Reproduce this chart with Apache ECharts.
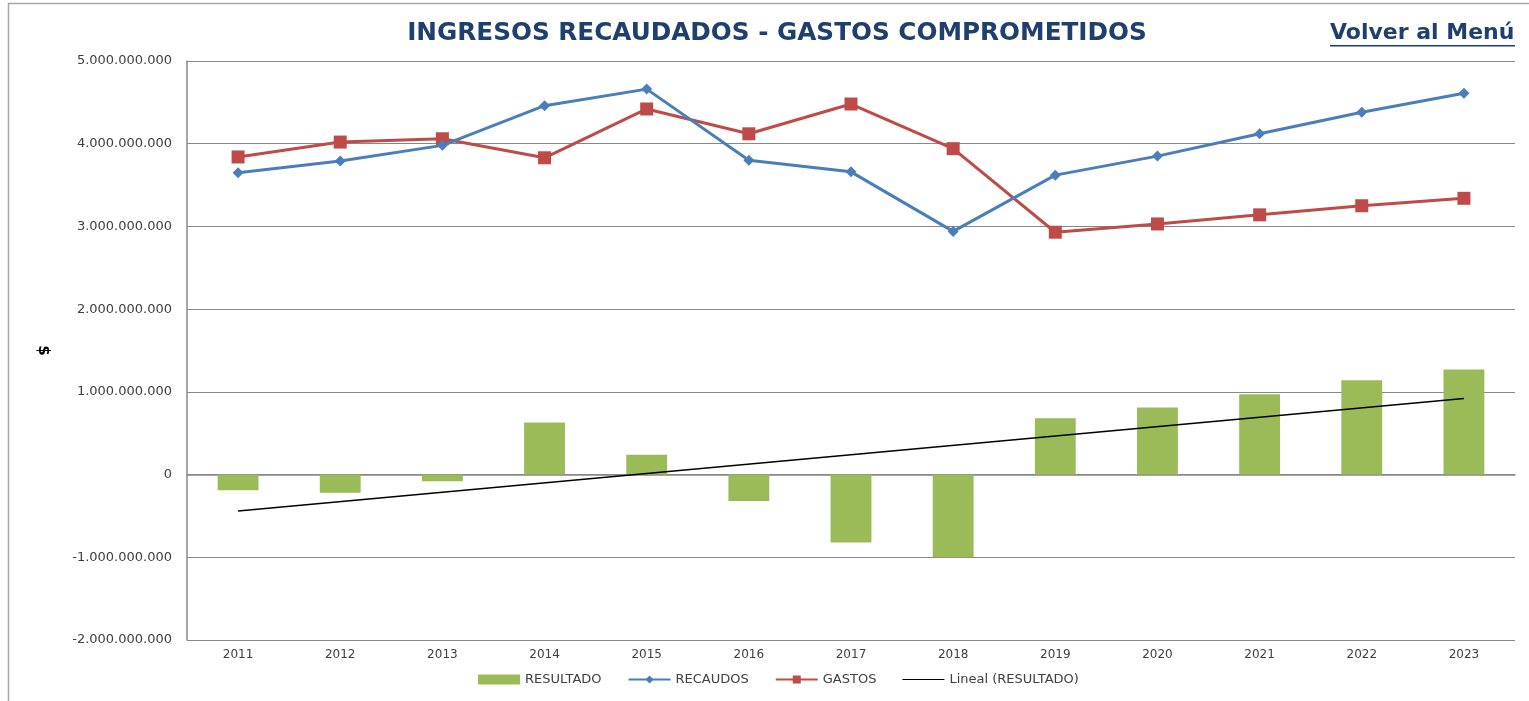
<!DOCTYPE html>
<html><head><meta charset="utf-8">
<script src="https://cdn.jsdelivr.net/npm/echarts@6/dist/echarts.min.js"></script>
<style>html,body{margin:0;padding:0;background:#fff}#c{width:1529px;height:701px}</style>
</head><body><div id="c"></div>
<script>
const years = ['2011','2012','2013','2014','2015','2016','2017','2018','2019','2020','2021','2022','2023'];
const recaudos = [3650000000,3790000000,3980000000,4460000000,4660000000,3800000000,3660000000,2940000000,3620000000,3850000000,4120000000,4380000000,4610000000];
const gastos = [3840000000,4020000000,4060000000,3830000000,4420000000,4120000000,4480000000,3940000000,2930000000,3030000000,3140000000,3250000000,3340000000];
const resultado = [-190000000,-220000000,-80000000,630000000,240000000,-320000000,-820000000,-1000000000,680000000,810000000,970000000,1140000000,1270000000];
// trend line: value at first and last year
const trendFirst = -440000000;
const trendLast = 920000000;
const trend = years.map((y,i)=> i===0 ? trendFirst : (i===years.length-1 ? trendLast : null));

const FONT = 'DejaVu Sans';
function fmt(v){
  const neg = v < 0; let s = String(Math.abs(Math.round(v)));
  s = s.replace(/\B(?=(\d{3})+(?!\d))/g, '.');
  return (neg?'-':'') + s;
}
const chart = echarts.init(document.getElementById('c'), null, {renderer:'canvas'});
chart.setOption({
  backgroundColor:'#fff',
  animation:false,
  textStyle:{fontFamily:FONT},
  title:{text:'INGRESOS RECAUDADOS - GASTOS COMPROMETIDOS', left:772, top:16, textAlign:'center',
    textStyle:{fontFamily:FONT, fontWeight:'bold', fontSize:24.7, color:'#1F3F6E'}},
  graphic:[
    {type:'rect', shape:{x:8.5,y:3.5,width:1600,height:720}, style:{fill:'none', stroke:'#a6a6a6', lineWidth:1.5}},
    {type:'text', left:1330, top:22, style:{text:'Volver al Menú', font:'bold 22px '+FONT, fill:'#1F3F6E'}},
    {type:'rect', shape:{x:1330,y:45,width:185,height:1.5}, style:{fill:'#1F3F6E'}}
  ],
  legend:{bottom:10, left:473, itemGap:26, itemWidth:42, itemHeight:10,
    textStyle:{fontFamily:FONT, fontSize:13, color:'#404040'},
    data:[
      {name:'RESULTADO', icon:'rect'},
      {name:'RECAUDOS'},
      {name:'GASTOS'},
      {name:'Lineal (RESULTADO)', icon:'path://M0,0 L40,0 L40,1 L0,1 Z'}
    ]},
  grid:{left:187, right:14, top:61, bottom:61},
  xAxis:{type:'category', data:years, boundaryGap:true,
    axisLine:{show:true, lineStyle:{color:'#888', width:1.5}},
    axisTick:{show:false},
    axisLabel:{fontFamily:FONT, fontSize:12, color:'#404040', margin:9}},
  yAxis:{type:'value', min:-2000000000, max:5000000000, interval:1000000000,
    name:'$', nameLocation:'middle', nameGap:137, nameRotate:-90,
    nameTextStyle:{fontFamily:FONT, fontSize:15, fontWeight:'bold', color:'#000'},
    axisLine:{show:true, lineStyle:{color:'#888', width:1.5}},
    axisTick:{show:false},
    splitLine:{lineStyle:{color:'#888', width:1.2}},
    axisLabel:{fontFamily:FONT, fontSize:13, color:'#404040', margin:15, formatter:fmt}},
  series:[
    {name:'RESULTADO', type:'bar', data:resultado, barWidth:'40%', itemStyle:{color:'#9BBB59'}, z:2},
    {name:'RECAUDOS', type:'line', data:recaudos, symbol:'diamond', symbolSize:11,
      lineStyle:{color:'#4A7EBB', width:3}, itemStyle:{color:'#4A7EBB'}, z:4},
    {name:'GASTOS', type:'line', data:gastos, symbol:'rect', symbolSize:13,
      lineStyle:{color:'#BE4B48', width:3}, itemStyle:{color:'#BE4B48'}, z:3},
    {name:'Lineal (RESULTADO)', type:'line', data:trend, connectNulls:true, symbol:'none',
      lineStyle:{color:'#000', width:1.5}, itemStyle:{color:'#000'}, z:5}
  ]
});
</script></body></html>
